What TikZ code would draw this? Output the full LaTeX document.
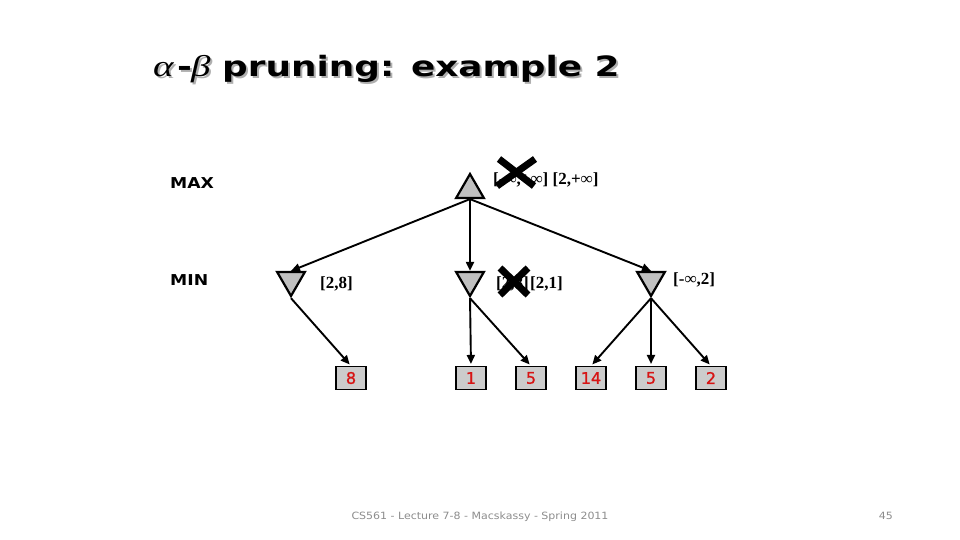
\documentclass[tikz,border=0pt]{standalone}
\usepackage{fontspec}
\setmainfont{Liberation Serif}
\newfontfamily\verd{DejaVu Sans}
\newfontfamily\leaffont[FakeBold=1.2]{DejaVu Sans}
\newfontfamily\lvlfont[FakeStretch=1.15]{DejaVu Sans}
\newfontfamily\footfont[FakeStretch=1.1]{DejaVu Sans}
\newfontfamily\titlefont[FakeStretch=1.28]{DejaVu Sans}
\newfontfamily\greekfont[FakeStretch=1.3]{Liberation Serif}
\usetikzlibrary{shapes.geometric,arrows.meta}
\definecolor{trigray}{RGB}{192,192,192}
\definecolor{boxgray}{RGB}{204,204,204}
\definecolor{leafred}{RGB}{215,20,20}
\definecolor{footgray}{RGB}{140,140,140}
\definecolor{shadowgray}{RGB}{175,175,175}
\tikzset{
  tri/.style={regular polygon, regular polygon sides=3, minimum size=32pt, inner sep=0pt,
    draw=black, fill=trigray, line width=2.2pt},
  maxtri/.style={tri},
  mintri/.style={tri, shape border rotate=180},
  leaf/.style={draw=black, line width=1.1pt, fill=boxgray, minimum width=30pt, minimum height=23pt,
    inner sep=0pt, text=leafred, font=\leaffont\fontsize{16}{16}\selectfont},
  arr/.style={line width=1.9pt, -{Triangle[length=9pt,width=8pt]}},
  lab/.style={inner sep=0pt, anchor=base west, font=\bfseries\fontsize{17}{17}\selectfont},
  lvl/.style={inner sep=0pt, anchor=base west, font=\lvlfont\bfseries\fontsize{15}{15}\selectfont},
  ttl/.style={inner sep=0pt, anchor=base west, font=\titlefont\bfseries\fontsize{28}{28}\selectfont},
  grk/.style={inner sep=0pt, anchor=base west, font=\greekfont\itshape\fontsize{30}{30}\selectfont},
  cross/.style={line width=7pt, black},
}
\begin{document}
\begin{tikzpicture}[x=1pt,y=-1pt]
\useasboundingbox (0,0) rectangle (960,540);
% title (shadow first)
\node[grk, text=shadowgray] (tas) at (155,79) {α};
\node[ttl, text=shadowgray] (tds) at (179,79) {-};
\node[grk, text=shadowgray] (tbs) at (193,79) {β};
\node[ttl, text=shadowgray] (tts) at (224,79) {pruning: example 2};
\node[grk] (ta) at (153,77) {α};
\node[ttl] (td) at (177,77) {-};
\node[grk] (tb) at (191,77) {β};
\node[ttl] (tt) at (222,77) {pruning: example 2};
% level labels
\node[lvl] (max) at (170,188) {MAX};
\node[lvl] (min) at (170,285) {MIN};
% tree
\node[maxtri] (root) at (470,190) {};
\node[mintri] (m1) at (291,280) {};
\node[mintri] (m2) at (470,280) {};
\node[mintri] (m3) at (651,280) {};
\node[leaf] (l1) at (351,378) {8};
\node[leaf] (l2) at (471,378) {1};
\node[leaf] (l3) at (531,378) {5};
\node[leaf] (l4) at (591,378) {14};
\node[leaf] (l5) at (651,378) {5};
\node[leaf] (l6) at (711,378) {2};
\draw[arr] (root.side 2) -- (m1.side 2);
\draw[arr] (root.side 2) -- (m2.side 2);
\draw[arr] (root.side 2) -- (m3.side 2);
\draw[arr, shorten >=2pt] (m1.corner 1) -- (l1.north);
\draw[arr, shorten >=2pt] (m2.corner 1) -- (l2.north);
\draw[arr, shorten >=2pt] (m2.corner 1) -- (l3.north);
\draw[arr, shorten >=2pt] (m3.corner 1) -- (l4.north);
\draw[arr, shorten >=2pt] (m3.corner 1) -- (l5.north);
\draw[arr, shorten >=2pt] (m3.corner 1) -- (l6.north);
% value labels
\node[lab] (rl) at (493,184) {[-∞,+∞] [2,+∞]};
\node[lab] (l1lab) at (320,288) {[2,8]};
\node[lab] (m2old) at (496,288) {[2,8]};
\node[lab] (m2new) at (530,288) {[2,1]};
\node[lab] (m3lab) at (673,284) {[-∞,2]};
% crosses
\draw[cross] (499,159) -- (534,186);
\draw[cross] (535,159) -- (497,186);
\draw[cross] (500,268) -- (528,295);
\draw[cross] (528,268) -- (500,295);
% footer
\node[inner sep=0pt, anchor=base, text=footgray, font=\footfont\fontsize{10}{10}\selectfont] (foot) at (480,519) {CS561 - Lecture 7-8 - Macskassy - Spring 2011};
\node[inner sep=0pt, anchor=base east, text=footgray, font=\footfont\fontsize{10}{10}\selectfont] (pg) at (893,519) {45};
\end{tikzpicture}
\end{document}
